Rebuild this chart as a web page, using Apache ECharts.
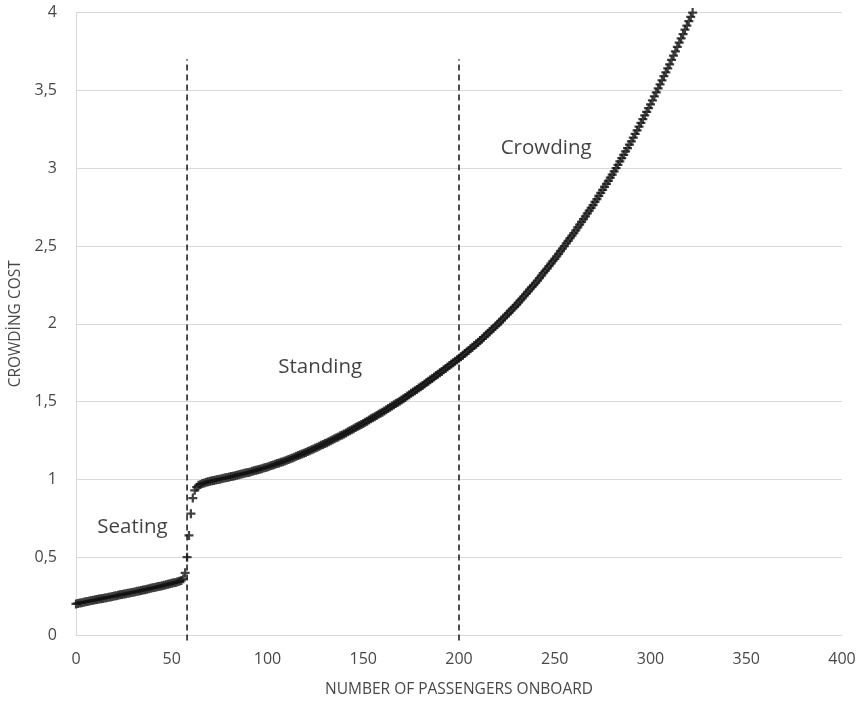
<!DOCTYPE html>
<html>
<head>
<meta charset="utf-8">
<script src="https://cdn.jsdelivr.net/npm/echarts@6/dist/echarts.min.js"></script>
<style>html,body{margin:0;padding:0;background:#fff;}#c{width:859px;height:703px;}</style>
</head>
<body>
<div id="c"></div>
<script>
// Crowding cost per number of passengers onboard (passenger counts 0..322, one per step)
const seatingCost = [0.200,0.203,0.206,0.208,0.211,0.213,0.216,0.218,0.221,0.223,
  0.226,0.228,0.231,0.233,0.235,0.238,0.240,0.243,0.245,0.248,
  0.250,0.253,0.255,0.258,0.260,0.263,0.265,0.268,0.270,0.273,
  0.275,0.278,0.281,0.283,0.286,0.289,0.291,0.294,0.297,0.300,
  0.303,0.305,0.308,0.311,0.314,0.317,0.320,0.323,0.326,0.329,
  0.332,0.335,0.338,0.342,0.346,0.351,0.362];           // 0..56
const transitionCost = [0.400,0.500,0.640,0.780,0.880,0.930,0.950,0.962,0.968,0.973,
  0.977,0.981,0.985];                                      // 57..69
const standingCost = [0.988,0.991,0.993,0.996,0.999,1.001,1.004,1.007,1.010,1.012,
  1.015,1.018,1.021,1.024,1.027,1.030,1.033,1.036,1.039,1.042,
  1.045,1.048,1.052,1.055,1.059,1.062,1.066,1.069,1.073,1.076,
  1.080,1.084,1.089,1.093,1.097,1.102,1.106,1.110,1.114,1.119,
  1.123,1.128,1.133,1.138,1.143,1.148,1.153,1.158,1.163,1.168,
  1.173,1.179,1.184,1.190,1.196,1.202,1.207,1.213,1.219,1.224,
  1.230,1.236,1.242,1.249,1.255,1.261,1.267,1.273,1.280,1.286,
  1.292,1.299,1.306,1.312,1.319,1.326,1.333,1.340,1.346,1.353,
  1.360,1.367,1.374,1.382,1.389,1.396,1.403,1.410,1.418,1.425,
  1.432,1.440,1.448,1.455,1.463,1.471,1.479,1.487,1.494,1.502,
  1.510,1.519,1.527,1.536,1.544,1.553,1.561,1.570,1.578,1.587,
  1.595,1.604,1.613,1.622,1.631,1.640,1.649,1.658,1.667,1.676,
  1.685,1.694,1.704,1.713,1.722,1.732,1.741,1.750,1.760,1.769,
  1.778];                                                  // 70..200
const crowdingCost = [1.788,1.798,1.809,1.819,1.829,1.839,1.849,1.860,1.870,1.880,
  1.892,1.903,1.915,1.926,1.938,1.949,1.961,1.972,1.984,1.995,
  2.008,2.020,2.033,2.046,2.059,2.071,2.084,2.097,2.109,2.122,
  2.136,2.150,2.164,2.178,2.193,2.207,2.221,2.235,2.249,2.263,
  2.278,2.294,2.309,2.325,2.340,2.355,2.371,2.386,2.402,2.417,
  2.434,2.450,2.467,2.483,2.500,2.517,2.533,2.550,2.566,2.583,
  2.601,2.619,2.637,2.655,2.673,2.691,2.709,2.727,2.745,2.763,
  2.783,2.802,2.822,2.841,2.861,2.880,2.900,2.919,2.939,2.958,
  2.979,3.001,3.022,3.044,3.065,3.086,3.108,3.129,3.151,3.172,
  3.196,3.220,3.243,3.267,3.291,3.315,3.339,3.362,3.386,3.410,
  3.436,3.462,3.487,3.513,3.539,3.565,3.591,3.616,3.642,3.668,
  3.696,3.723,3.751,3.779,3.807,3.834,3.862,3.890,3.917,3.945,
  3.972,4.000];                                            // 201..322

const boundaryPassengers = [58, 200];          // dashed regime boundaries
const boundaryCostRange = [-0.035, 3.7];
const regionNames = ['Seating', 'Standing', 'Crowding'];
const regionLabelAt = [[29.5, 0.69], [127.5, 1.72], [245.5, 3.13]];

const xTicks = [0, 50, 100, 150, 200, 250, 300, 350, 400];
const yTicks = [0, 0.5, 1, 1.5, 2, 2.5, 3, 3.5, 4];

const allCost = seatingCost.concat(transitionCost, standingCost, crowdingCost);
const points = allCost.map((v, i) => [i, v]);

const FONT = '"Open Sans", Lato, sans-serif';
const GREY = '#484848';
const plus = 'path://M3,0H5V3H8V5H5V8H3V5H0V3H3Z';

const series = [{
  type: 'scatter',
  data: points,
  symbol: plus,
  symbolSize: 9,
  itemStyle: { color: '#111' },
  z: 3,
  silent: true
}];
boundaryPassengers.forEach(b => {
  series.push({
    type: 'line',
    data: [[b, boundaryCostRange[0]], [b, boundaryCostRange[1]]],
    showSymbol: false,
    clip: false,
    lineStyle: { color: '#222', width: 1.6, type: [6, 4] },
    z: 2,
    silent: true
  });
});
series.push({
  type: 'scatter',
  data: regionLabelAt.map((p, i) => ({ value: p, name: regionNames[i] })),
  symbolSize: 0,
  label: {
    show: true, position: 'inside', formatter: '{b}',
    color: '#111', fontFamily: FONT, fontSize: 20.5
  },
  silent: true
});

const chart = echarts.init(document.getElementById('c'));
chart.setOption({
  backgroundColor: '#fff',
  animation: false,
  grid: { left: 76, right: 17, top: 12.6, bottom: 68, outerBoundsMode: 'none', containLabel: false },
  xAxis: {
    type: 'value', min: 0, max: 400, interval: 50,
    name: 'NUMBER OF PASSENGERS ONBOARD', nameLocation: 'middle', nameGap: 47,
    nameTextStyle: { color: GREY, fontFamily: FONT, fontSize: 15.5 },
    axisLine: { show: true, lineStyle: { color: '#d9d9d9', width: 1 } },
    axisTick: { show: false },
    splitLine: { show: false },
    axisLabel: { color: GREY, fontFamily: FONT, fontSize: 16, margin: 16,
      formatter: v => xTicks.includes(v) ? String(v) : '' }
  },
  yAxis: {
    type: 'value', min: 0, max: 4, interval: 0.5,
    name: 'CROWDİNG COST', nameLocation: 'middle', nameGap: 52, nameRotate: 90,
    nameTextStyle: { color: GREY, fontFamily: FONT, fontSize: 15.5 },
    axisLine: { show: true, lineStyle: { color: '#d9d9d9', width: 1 } },
    axisTick: { show: false },
    splitLine: { show: true, lineStyle: { color: '#d9d9d9', width: 1 } },
    axisLabel: { color: GREY, fontFamily: FONT, fontSize: 16, margin: 19,
      formatter: v => yTicks.includes(v) ? String(v).replace('.', ',') : '' }
  },
  series: series
});
</script>
</body>
</html>
